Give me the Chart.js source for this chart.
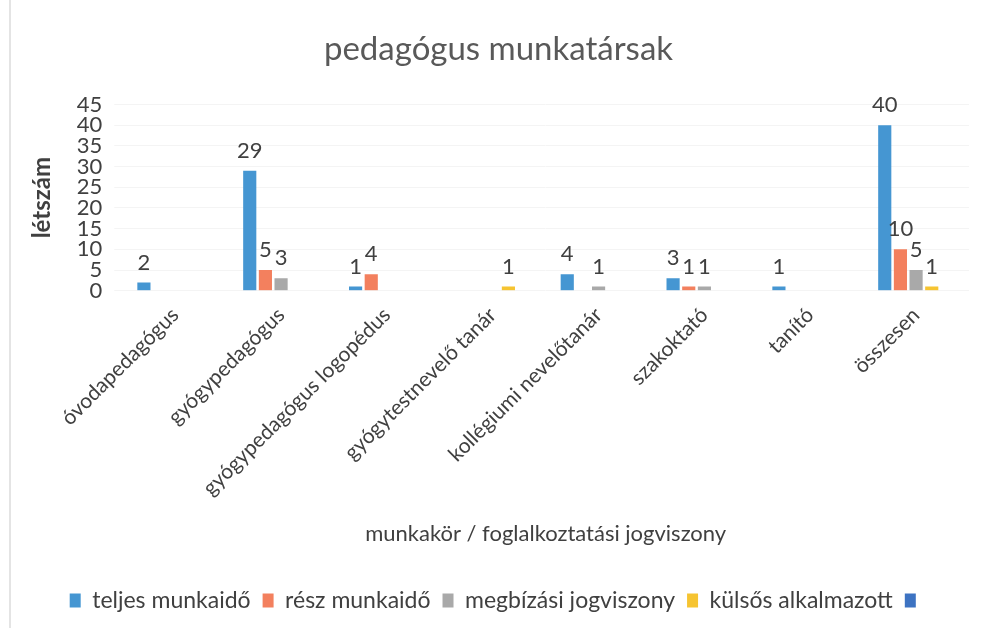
<!DOCTYPE html>
<html>
<head>
<meta charset="utf-8">
<script src="https://cdn.jsdelivr.net/npm/chart.js@4/dist/chart.umd.min.js"></script>
<style>
  html, body { margin: 0; padding: 0; background: #fff; }
  #wrap { width: 983px; height: 628px; position: relative; }
  #edge { position: absolute; left: 9px; top: 0; width: 2px; height: 628px; background: #e4e4e4; }
</style>
</head>
<body>
<div id="wrap"><div id="edge"></div><canvas id="chart" width="983" height="628" style="position:absolute;left:0;top:0"></canvas></div>
<script>
const categories = [`óvodapedagógus`, `gyógypedagógus`, `gyógypedagógus logopédus`, `gyógytestnevelő tanár`,
    `kollégiumi nevelőtanár`, `szakoktató`, `tanító`, `összesen`];

const teljes = [2, 29, 1, 0, 4, 3, 1, 40],
    resz = [0, 5, 4, 0, 0, 1, 0, 10],
    megbizasi = [0, 3, 0, 0, 1, 1, 0, 5],
    kulsos = [0, 0, 0, 1, 0, 0, 0, 1],
    ures = [0, 0, 0, 0, 0, 0, 0, 0];

const seriesNames = [`teljes munkaidő`, `rész munkaidő`, `megbízási jogviszony`, `külsős alkalmazott`, ``];
const seriesColors = [`#4596d2`, `#f3805e`, `#a9a9a9`, `#f6c431`, `#3d73c2`];

const yTicks = [0, 5, 10, 15, 20, 25, 30, 35, 40, 45];

const fontFam = `Lato, "Open Sans", sans-serif`;
const textColor = `#404040`;

// value labels above the bars, only where there is something
const valueLabels = {
    id: `valueLabels`,
    afterDatasetsDraw(chart) {
        const ctx = chart.ctx;
        ctx.save();
        ctx.font = `22px ${fontFam}`;
        ctx.fillStyle = textColor;
        ctx.textAlign = `center`;
        ctx.textBaseline = `bottom`;
        chart.data.datasets.forEach((ds, i) => {
            const meta = chart.getDatasetMeta(i);
            meta.data.forEach((bar, j) => {
                const v = ds.data[j];
                if (!v) return;
                ctx.fillText(v, bar.x, bar.y - 9);
            });
        });
        ctx.restore();
    }
};

const allSeries = [teljes, resz, megbizasi, kulsos, ures];

const ctx = document.getElementById(`chart`).getContext(`2d`);
const myChart = new Chart(ctx, {
    type: 'bar',
    data: {
        labels: categories,
        datasets: allSeries.map((d, i) => ({
            label: seriesNames[i],
            data: d,
            backgroundColor: seriesColors[i],
            categoryPercentage: 0.74,
            barPercentage: 0.84
        }))
    },
    options: {
        responsive: false,
        animation: false,
        layout: { padding: { left: 28, right: 14, top: 8, bottom: 6 } },
        plugins: {
            title: {
                display: true,
                text: `pedagógus munkatársak`,
                color: `#595959`,
                font: { family: fontFam, size: 33, weight: `normal` },
                padding: { top: 22, bottom: 35 }
            },
            legend: {
                position: `bottom`,
                labels: {
                    color: textColor,
                    font: { family: fontFam, size: 23 },
                    boxWidth: 11,
                    boxHeight: 14,
                    padding: 12
                }
            },
            tooltip: { enabled: false }
        },
        scales: {
            x: {
                grid: { display: false },
                border: { display: false },
                ticks: {
                    color: textColor,
                    font: { family: fontFam, size: 21 },
                    maxRotation: 45,
                    minRotation: 45,
                    autoSkip: false,
                    padding: 4
                },
                title: {
                    display: true,
                    text: `munkakör / foglalkoztatási jogviszony`,
                    color: textColor,
                    font: { family: fontFam, size: 22 },
                    padding: { top: 16, bottom: 30 }
                }
            },
            y: {
                min: 0,
                max: 45,
                afterBuildTicks: axis => { axis.ticks = yTicks.map(v => ({ value: v })); },
                grid: { color: `#f4f4f4` },
                border: { display: false },
                ticks: {
                    color: textColor,
                    font: { family: fontFam, size: 22, lineHeight: 0.95 },
                    padding: 12,
                    autoSkip: false
                },
                title: {
                    display: true,
                    text: `létszám`,
                    color: textColor,
                    font: { family: fontFam, size: 24, weight: `bold` },
                    padding: { top: 0, bottom: 8 }
                }
            }
        }
    },
    plugins: [valueLabels]
});
</script>
</body>
</html>
